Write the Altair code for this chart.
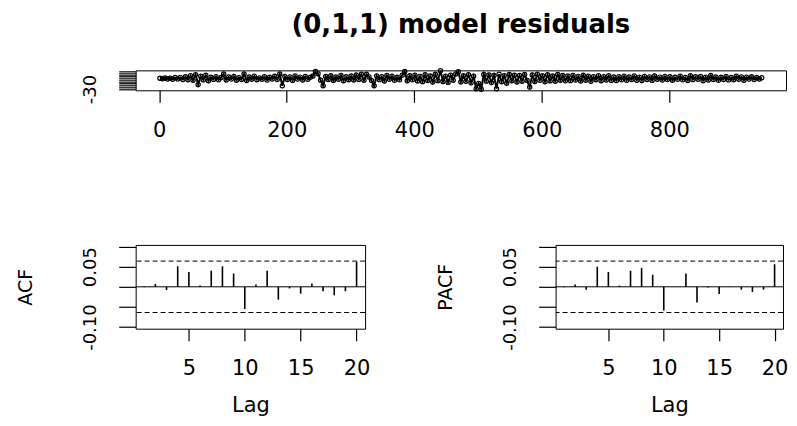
import altair as alt
import pandas as pd

title_text = "(0,1,1) model residuals"

# residual series, read every 4th observation (t = 1, 5, 9, ..., 945)
res_t = list(range(1, 946, 4))
res_vals = [
    0.4, -0.9, 1.2, -1.6, 0.8, -2.1, 2.4, -1.3, 3.0, -2.8, 4.6, -3.5, 7.9, -5.2, 10.8, -17.5, 6.3, -4.1, 9.2, -6.4,
    3.3, -2.7, 5.1, -3.9, 2.6, 12.4, -4.4, 3.8, -1.9, 5.7, -5.1, 2.2, -3.0, 12.6, -6.0, 4.1, -2.4, 6.5, -3.6, 1.5,
    -2.2, 4.9, -4.7, 3.4, -1.6, 6.2, -3.3, 12.3, -21.0, 5.5, -2.9, 4.3, -5.6, 7.1, -1.8, 3.7, -4.2, 5.9, -2.5, 3.1,
    6.8, 19.5, 13.2, -4.8, -20.5, 5.3, -3.1, 7.6, -5.9, 3.9, -2.2, 8.4, -6.7, 4.6, -3.8, 6.9, -4.5, 9.8, -2.7, 12.2,
    -5.3, 11.8, 4.2, -6.1, -20.8, 7.3, -3.4, 5.0, -7.2, 8.1, -2.6, 6.4, -5.5, 3.2, -4.0, 9.3, 19.8, -6.8, 7.7, -3.9,
    8.9, -7.4, 5.6, -9.1, 10.2, -5.8, 7.0, -10.4, 11.6, -6.3, 22.0, -8.7, 6.6, -11.2, 9.4, -4.9, 12.8, 18.7, -9.8, 7.5,
    -8.3, 10.6, -12.5, 6.1, -29.5, -14.0, -30.5, 11.4, -7.7, 9.7, -11.8, 8.2, -29.0, 12.1, -9.2, 7.9, -13.5, 10.9, -6.5, 9.0,
    -10.1, 8.6, -7.9, 11.1, -6.0, -24.5, 9.9, -8.8, 12.0, -5.4, 7.4, -9.6, 10.3, -7.0, 6.7, -8.1, 11.3, -5.0, 8.3, -6.9,
    7.1, -6.3, 8.7, -4.7, 5.8, -7.6, 9.1, -5.1, 6.0, -8.2, 4.9, -3.6, 7.8, -6.6, 5.2, -4.3, 8.0, -5.7, 3.8, -6.1,
    5.0, -3.9, 6.6, -5.3, 4.1, -2.8, 7.2, -4.9, 3.5, -6.0, 5.7, -3.1, 4.4, -5.6, 6.9, -2.4, 3.7, -4.6, 5.9, -3.3,
    4.8, -5.2, 3.2, -2.6, 6.4, -4.0, 2.9, -5.9, 7.5, -3.4, 4.5, -2.2, 5.3, -6.5, 3.6, -4.4, 8.2, -3.0, 4.0, -5.5,
    3.4, -2.9, 5.6, -4.1, 2.7, -3.6, 6.0, -2.3, 4.2, -5.0, 3.1, -1.9, 4.7, -3.2, 2.5, -1.4, 1.8,
]

lags = list(range(1, 21))
acf_vals = [-0.001, 0.007, -0.008, 0.051, 0.037, 0.003, 0.040, 0.051, 0.033, -0.055,
            0.006, 0.040, -0.032, -0.004, -0.017, 0.008, -0.011, -0.021, -0.011, 0.062]
pacf_vals = [-0.001, 0.006, -0.007, 0.050, 0.037, 0.003, 0.040, 0.047, 0.030, -0.059,
             0.001, 0.033, -0.039, -0.002, -0.018, 0.001, -0.007, -0.013, -0.007, 0.056]
clim_vals = [0.0638, -0.0638]

top_x_ticks = [0, 200, 400, 600, 800]
top_y_ticks = [-30, -25, -20, -15, -10, -5, 0, 5, 10, 15, 20]
corr_x_ticks = [5, 10, 15, 20]
corr_y_ticks = [-0.10, -0.05, 0.0, 0.05, 0.10]

FONT = "DejaVu Sans"
YTITLE_X = -110
CORR_H = 84

res_df = pd.DataFrame({"t": res_t, "r": res_vals})

top = alt.Chart(res_df).mark_line(
    color="black", strokeWidth=2,
    point=alt.OverlayMarkDef(filled=False, color="black", size=18, strokeWidth=1.2),
).encode(
    x=alt.X("t:Q", scale=alt.Scale(domain=[-37, 983], nice=False, zero=False),
            axis=alt.Axis(values=top_x_ticks, title=None, tickSize=12, labelPadding=17,
                          labelFontSize=21, labelAngle=0, labelOverlap=False)),
    y=alt.Y("r:Q", scale=alt.Scale(domain=[-33.6, 22.8], nice=False, zero=False),
            axis=alt.Axis(values=top_y_ticks,
                          labelExpr="datum.value == -30 ? '-30' : ''",
                          tickSize=17, labelAngle=270, labelAlign="center",
                          labelBaseline="alphabetic", labelPadding=23, labelFontSize=18,
                          labelOverlap=False,
                          title="ACF", titleOpacity=0, titleX=YTITLE_X + 2, titleY=10,
                          titleAngle=270, titleAlign="center", titleBaseline="middle",
                          titleFontSize=19)),
).properties(
    width=652, height=20,
    title=alt.TitleParams(text=title_text, font=FONT, fontSize=26, fontWeight="bold",
                          anchor="middle", frame="group", baseline="alphabetic",
                          offset=3, color="black"),
)


def corr_panel(vals, name, w):
    df = pd.DataFrame({"lag": lags, "v": vals, "zero": [0.0] * len(lags)})
    xscale = alt.Scale(domain=[0.24, 20.76], nice=False, zero=False)
    yscale = alt.Scale(domain=[-0.104, 0.104], nice=False, zero=False)
    xaxis = alt.Axis(values=corr_x_ticks, title="Lag", tickSize=12, labelPadding=17,
                     labelFontSize=21, labelAngle=0, labelOverlap=False,
                     titleFontSize=21, titleX=w / 2, titleY=83, titleAlign="center",
                     titleBaseline="alphabetic", titleAngle=0)
    yaxis = alt.Axis(values=corr_y_ticks,
                     labelExpr="abs(datum.value - 0.05) < 1e-9 ? '0.05' : (abs(datum.value + 0.1) < 1e-9 ? '-0.10' : '')",
                     tickSize=17, labelAngle=270, labelAlign="center",
                     labelBaseline="alphabetic", labelPadding=23, labelFontSize=18,
                     labelOverlap=False,
                     title=name, titleX=YTITLE_X, titleY=CORR_H / 2, titleAngle=270,
                     titleAlign="center", titleBaseline="middle", titleFontSize=19)
    bars = alt.Chart(df).mark_rule(color="black", strokeWidth=1.6).encode(
        x=alt.X("lag:Q", scale=xscale, axis=xaxis),
        y=alt.Y("v:Q", scale=yscale, axis=yaxis),
        y2="zero:Q",
    )
    zero_line = alt.Chart(pd.DataFrame({"v": [0.0]})).mark_rule(color="black", strokeWidth=1).encode(
        y=alt.Y("v:Q", scale=yscale, axis=yaxis),
    )
    bands = alt.Chart(pd.DataFrame({"v": clim_vals})).mark_rule(
        color="black", strokeWidth=1, strokeDash=[5, 3]).encode(
        y=alt.Y("v:Q", scale=yscale, axis=yaxis),
    )
    return alt.layer(bars, zero_line, bands).properties(width=w, height=CORR_H)


acf = corr_panel(acf_vals, "ACF", 230)
pacf = corr_panel(pacf_vals, "PACF", 228)

row1 = alt.hconcat(top)
row2 = alt.hconcat(acf, pacf, spacing=65)

chart = alt.vconcat(row1, row2, spacing=103).properties(
    padding={"left": 8, "top": 3, "right": 0, "bottom": 0},
    background="white",
).configure_view(
    stroke="black", strokeWidth=1,
).configure_axis(
    labelFont=FONT, titleFont=FONT, labelColor="black", titleColor="black",
    tickColor="black", tickWidth=1.2, domain=False, grid=False,
    titleFontWeight="normal",
)

chart.save("out.html", embed_options={"renderer": "svg", "actions": False})
